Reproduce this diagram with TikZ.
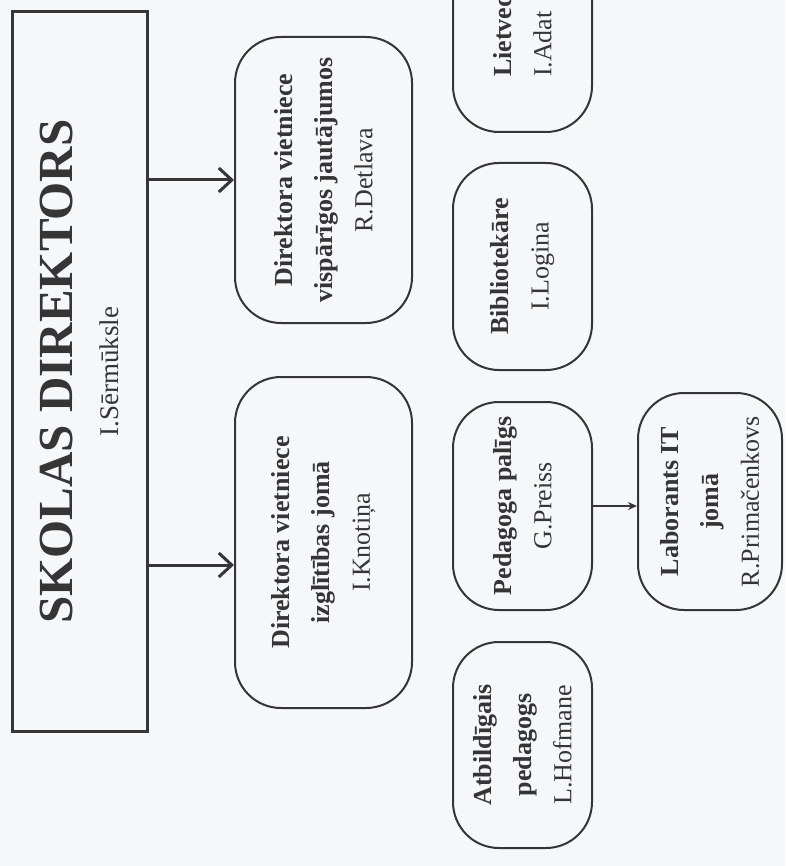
\documentclass[tikz,border=0pt]{standalone}
\usepackage{fontspec}
\setmainfont{Liberation Serif}
\usetikzlibrary{arrows.meta}
\definecolor{ink}{HTML}{353535}
\definecolor{paper}{HTML}{F6F7F9}
\begin{document}
\begin{tikzpicture}[x=1pt,y=-1pt,
  post/.style={draw=ink,line width=2pt,rounded corners=46pt,rotate=90,align=center,inner sep=0pt,text=ink,font=\fontsize{26}{40}\selectfont},
  bigarrow/.style={draw=ink,line width=3pt,-{Straight Barb[length=13pt,width=24pt,line width=3pt]}},
  smallarrow/.style={draw=ink,line width=1.5pt,-{Stealth[length=9pt,width=8pt]}}]
\useasboundingbox (0,0) rectangle (785,866);
\clip (0,0) rectangle (785,866);
\fill[paper] (0,0) rectangle (785,866);
\node[draw=ink,line width=3pt,rotate=90,align=center,inner sep=0pt,text=ink,minimum width=719pt,minimum height=135pt,font=\fontsize{27}{46}\selectfont] (dir) at (79.5,371.5) {{\fontsize{49}{46}\selectfont\bfseries SKOLAS DIREKTORS}\\I.Sērmūksle};
\node[post,minimum width=286pt,minimum height=177pt] (vd) at (323.5,180) {\textbf{Direktora vietniece}\\\textbf{vispārīgos jautājumos}\\R.Detlava};
\node[post,minimum width=331pt,minimum height=177pt] (kn) at (323.5,542.5) {\textbf{Direktora vietniece}\\\textbf{izglītības jomā}\\I.Knotiņa};
\node[post,minimum width=207pt,minimum height=139pt,text width=97pt,align=left] (lv) at (522.5,28.5) {\textbf{Lietved}\\I.Adat};
\node[post,minimum width=207pt,minimum height=139pt] (bib) at (522.5,266.5) {\textbf{Bibliotekāre}\\I.Logina};
\node[post,minimum width=208pt,minimum height=139pt] (pg) at (522.5,506) {\textbf{Pedagoga palīgs}\\G.Preiss};
\node[post,minimum width=206pt,minimum height=139pt] (ab) at (522.5,745) {\textbf{Atbildīgais}\\\textbf{pedagogs}\\L.Hofmane};
\node[post,minimum width=217pt,minimum height=144pt] (lab) at (710,501.5) {\textbf{Laborants IT}\\\textbf{jomā}\\R.Primačenkovs};
\coordinate (kl) at (0,565);
\draw[bigarrow] (dir.south |- vd.center) -- (vd.north);
\draw[bigarrow] (dir.south |- kl) -- (kn.north |- kl);
\draw[smallarrow] (pg.south) -- (pg.south -| lab.north);
\end{tikzpicture}
\end{document}
